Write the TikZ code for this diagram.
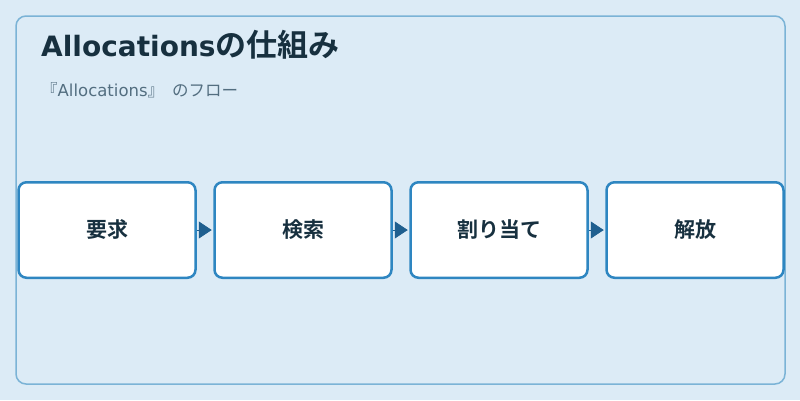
\documentclass[tikz,border=0pt]{standalone}
\usepackage{fontspec}
\setmainfont{Noto Sans CJK JP}
\newfontfamily\jpbold{Noto Sans CJK JP Bold}
\newfontfamily\jpreg{Noto Sans CJK JP}
\newfontfamily\dvbold{DejaVu Sans Bold}
\newfontfamily\dvreg{DejaVu Sans}
\usetikzlibrary{arrows.meta}
\definecolor{bgc}{HTML}{DCEBF6}
\definecolor{framec}{HTML}{7BB3D6}
\definecolor{boxc}{HTML}{2E86C1}
\definecolor{arrc}{HTML}{1F5F8F}
\definecolor{titlec}{HTML}{17303F}
\definecolor{subc}{HTML}{536E80}
\tikzset{
  stepbox/.style={draw=boxc, line width=2.5pt, fill=white, rounded corners=8pt,
    minimum width=177pt, minimum height=95.5pt, inner sep=0pt,
    font=\jpbold\fontsize{21pt}{24pt}\selectfont, text=titlec},
  flow/.style={draw=arrc, line width=0.8pt, shorten >=1.5pt, -{Triangle[length=13pt,width=17pt]}}
}
\begin{document}
\begin{tikzpicture}[x=1pt,y=-1pt]
\useasboundingbox (0,0) rectangle (800,400);
\fill[bgc] (0,0) rectangle (800,400);
\draw[framec, line width=1.5pt, rounded corners=10pt] (16,16) rectangle (785,384);
\node[anchor=base west, inner sep=0pt, text=titlec] (title) at (41,56)
  {\dvbold\fontsize{28pt}{32pt}\selectfont Allocations\jpbold\fontsize{31pt}{32pt}\selectfont の仕組み};
\node[anchor=base west, inner sep=0pt, text=subc] (sub) at (41,96)
  {\fontsize{16.5pt}{18pt}\selectfont\jpreg 『\dvreg Allocations\jpreg 』\hspace{8pt}のフロー};
\node[stepbox] (s1) at (107,230) {要求};
\node[stepbox] (s2) at (303,230) {検索};
\node[stepbox] (s3) at (499,230) {割り当て};
\node[stepbox] (s4) at (695,230) {解放};
\draw[flow] (s1.east) -- (s2.west);
\draw[flow] (s2.east) -- (s3.west);
\draw[flow] (s3.east) -- (s4.west);
\end{tikzpicture}
\end{document}
